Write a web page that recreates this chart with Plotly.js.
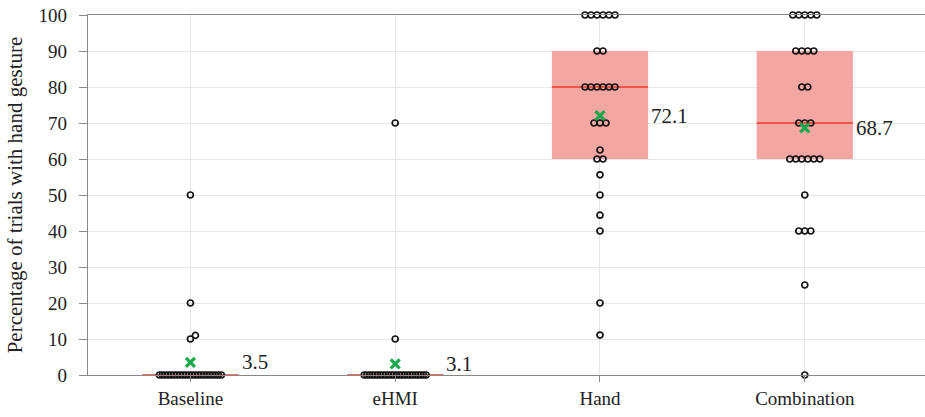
<!DOCTYPE html>
<html>
<head>
<meta charset="utf-8">
<script src="https://cdn.plot.ly/plotly-3.0.1.min.js"></script>
<style>html,body{margin:0;padding:0;background:#fff;}#chart{width:925px;height:417px;}</style>
</head>
<body>
<div id="chart"></div>
<script>
const categories = ['Baseline', 'eHMI', 'Hand', 'Combination'];
const baseline = [0,0,0,0,0,0,0,0,0,0,0,0,0,0,0,0,0,0,0,0,0,0,10,11,20,50];
const ehmi = [0,0,0,0,0,0,0,0,0,0,0,0,0,0,0,0,0,0,0,0,0,0,0,0,10,70];
const hand = [11.1,20,40,44.4,50,55.6,60,60,62.5,70,70,70,80,80,80,80,80,80,90,90,100,100,100,100,100,100];
const combination = [0,25,40,40,40,50,60,60,60,60,60,60,70,70,70,80,80,90,90,90,90,100,100,100,100,100];
const seriesList = [baseline, ehmi, hand, combination];

const M = {l: 88, r: 0, t: 15, b: 42};
const W = 925, H = 417;
const xRange = [-0.5, 3.587];
const yRange = [0, 100];
const pxPerCat = (W - M.l - M.r) / (xRange[1] - xRange[0]);
const pxPerUnit = (H - M.t - M.b) / (yRange[1] - yRange[0]);
const D = 6;
const BOXW = 0.47;
const FONT = 'Liberation Serif, Times New Roman, serif';

function quantile(sorted, p) {
  const pos = (sorted.length - 1) * p;
  const lo = Math.floor(pos), hi = Math.ceil(pos);
  return sorted[lo] + (sorted[hi] - sorted[lo]) * (pos - lo);
}

function swarm(vals) {
  const s = vals.slice().sort((a, b) => a - b);
  const rows = [];
  s.forEach(v => {
    if (rows.length && rows[rows.length - 1].v === v) rows[rows.length - 1].n++;
    else rows.push({v: v, n: 1});
  });
  const placed = [];
  rows.forEach(r => {
    const sp = r.n > 8 ? Math.min(D, 62 / (r.n - 1)) : D;
    const base = [];
    for (let i = 0; i < r.n; i++) base.push((i - (r.n - 1) / 2) * sp);
    let shift = 0;
    if (r.n <= 8) {
      for (let k = 0; k < 200; k++) {
        shift = (k % 2 ? 1 : -1) * Math.ceil(k / 2) * 0.5;
        let ok = true;
        for (const q of base) {
          for (const p of placed) {
            const dy = (r.v - p.v) * pxPerUnit;
            const dx = q + shift - p.x;
            if (dx * dx + dy * dy < D * D - 0.01) { ok = false; break; }
          }
          if (!ok) break;
        }
        if (ok) break;
      }
    }
    base.forEach(q => placed.push({x: q + shift, v: r.v}));
  });
  return placed;
}

const traces = [];
const annotations = [];
const q1s = [], meds = [], q3s = [], means = [];
seriesList.forEach(vals => {
  const s = vals.slice().sort((a, b) => a - b);
  q1s.push(quantile(s, 0.25));
  meds.push(quantile(s, 0.5));
  q3s.push(quantile(s, 0.75));
  means.push(vals.reduce((a, b) => a + b, 0) / vals.length);
});
const xs = categories.map((c, i) => i);

traces.push({
  type: 'box', x: xs, q1: q1s, median: q1s, q3: q3s, lowerfence: q1s, upperfence: q3s,
  width: BOXW, fillcolor: 'rgba(244,166,163,1)', line: {color: 'rgba(244,166,163,1)', width: 0},
  hoverinfo: 'skip', showlegend: false
});
traces.push({
  type: 'box', x: xs, q1: meds, median: meds, q3: meds, lowerfence: meds, upperfence: meds,
  width: BOXW, fillcolor: 'rgba(0,0,0,0)', line: {color: '#ee3b2f', width: 1.3},
  hoverinfo: 'skip', showlegend: false
});
const px = [], py = [];
seriesList.forEach((vals, i) => {
  swarm(vals).forEach(p => { px.push(i + p.x / pxPerCat); py.push(p.v); });
});
traces.push({
  type: 'scatter', mode: 'markers', x: px, y: py, cliponaxis: false,
  marker: {symbol: 'circle-open', size: 6, color: '#111', line: {width: 1.7, color: '#111'}},
  hoverinfo: 'skip', showlegend: false
});
traces.push({
  type: 'scatter', mode: 'markers', x: xs, y: means,
  marker: {symbol: 'x-thin-open', size: 9, color: '#19a84c', line: {width: 3.2, color: '#19a84c'}},
  hoverinfo: 'skip', showlegend: false
});
means.forEach((m, i) => {
  annotations.push({
    x: i + BOXW / 2, y: m, xref: 'x', yref: 'y', text: m.toFixed(1), showarrow: false,
    xanchor: 'left', yanchor: 'middle', xshift: 1,
    font: {family: FONT, size: 21, color: '#222'}
  });
});

const layout = {
  width: W, height: H, margin: M,
  paper_bgcolor: '#fff', plot_bgcolor: '#fff',
  font: {family: FONT, size: 19, color: '#222'},
  showlegend: false,
  xaxis: {
    range: xRange, tickvals: xs, ticktext: categories,
    showgrid: true, gridcolor: '#e6e6e6', gridwidth: 1,
    showline: true, linecolor: '#888', linewidth: 1.3, mirror: true,
    ticks: 'outside', ticklen: 6, tickcolor: '#888', zeroline: false,
    tickfont: {size: 19}
  },
  yaxis: {
    range: yRange, tickvals: [0,10,20,30,40,50,60,70,80,90,100],
    showgrid: true, gridcolor: '#e6e6e6', gridwidth: 1,
    showline: true, linecolor: '#888', linewidth: 1.3,
    ticks: 'outside', ticklen: 8, tickcolor: '#888', zeroline: false,
    ticklabelstandoff: 8,
    tickfont: {size: 19},
    title: {text: 'Percentage of trials with hand gesture', font: {size: 21}, standoff: 10}
  },
  annotations: annotations
};

Plotly.newPlot('chart', traces, layout, {displayModeBar: false, staticPlot: true});
</script>
</body>
</html>
